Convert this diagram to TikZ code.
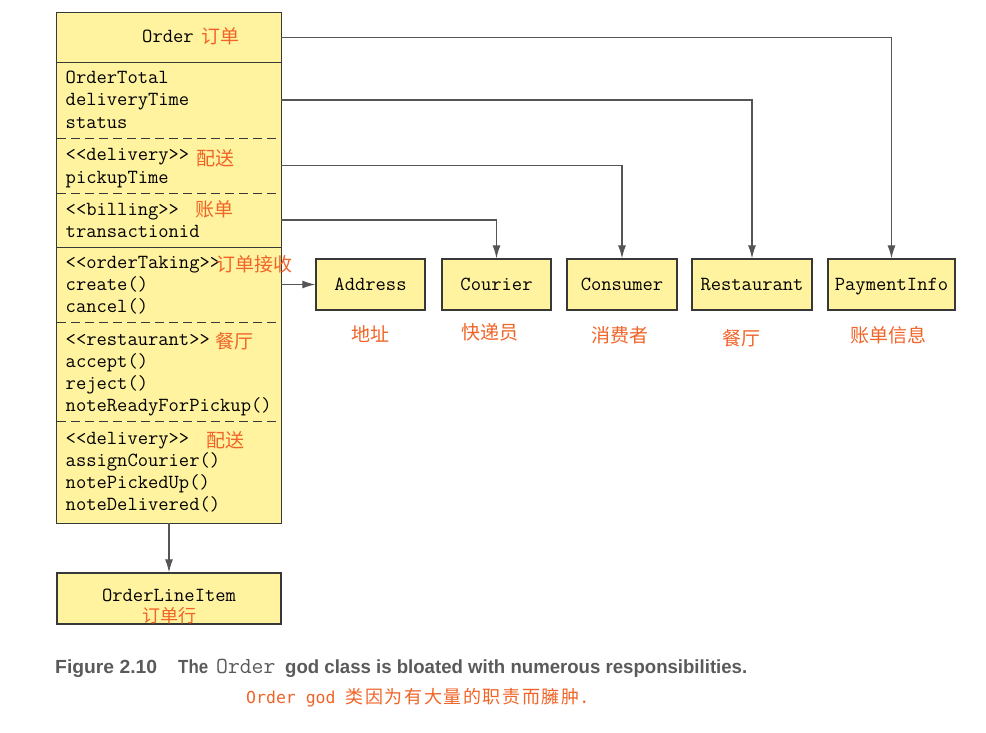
\documentclass[tikz,border=0pt]{standalone}
\usepackage{fontspec}
\usepackage{graphicx}
\setmainfont{Liberation Sans}
\newfontfamily\cjk{Noto Sans CJK SC}
\newfontfamily\cjkwide[LetterSpace=9]{Noto Sans CJK SC}
\newfontfamily\capmono{DejaVu Sans Mono}
\usetikzlibrary{arrows.meta,positioning}
\definecolor{classfill}{RGB}{255,243,160}
\definecolor{cnorange}{RGB}{240,100,40}
\definecolor{edgegray}{RGB}{85,85,85}
\definecolor{capgray}{RGB}{90,90,90}

\begin{document}
\begin{tikzpicture}[x=1pt,y=-1pt,
  part/.style={fill=classfill,inner sep=0,minimum width=224pt},
  outline/.style={draw=black!78,line width=1.3pt},
  cls/.style={outline,fill=classfill,inner sep=0,minimum height=51pt,
    text height=11pt,text depth=0pt,font=\ttfamily\fontsize{20}{22}\selectfont},
  mono/.style={inner sep=0,anchor=base west,font=\ttfamily\fontsize{20}{22}\selectfont},
  cn/.style={inner sep=0,anchor=base west,text=cnorange,font=\cjk\fontsize{19}{22}\selectfont},
  link/.style={draw=edgegray,line width=1.2pt,-{Latex[length=13pt,width=8pt]}}]
  \useasboundingbox (0,0) rectangle (986,733);
% Order class compartments
  \node[part,minimum height=49pt] (head) at (169,37.5) {};
  \node[part,minimum height=76pt] (attrs) at (169,100) {};
  \node[part,minimum height=55pt] (dlv) at (169,165.5) {};
  \node[part,minimum height=54pt] (bill) at (169,220) {};
  \node[part,minimum height=75pt] (taking) at (169,284.5) {};
  \node[part,minimum height=99pt] (rest) at (169,371.5) {};
  \node[part,minimum height=102pt] (dlvops) at (169,472) {};
  \draw[outline] (head.north west) rectangle (dlvops.south east);
  \draw[outline] (head.south west) -- (head.south east);
  \draw[outline,dash pattern=on 9pt off 5pt] (attrs.south west) -- (attrs.south east);
  \draw[outline,dash pattern=on 9pt off 5pt] (dlv.south west) -- (dlv.south east);
  \draw[outline] (bill.south west) -- (bill.south east);
  \draw[outline,dash pattern=on 9pt off 5pt] (taking.south west) -- (taking.south east);
  \draw[outline,dash pattern=on 9pt off 5pt] (rest.south west) -- (rest.south east);
% Order class texts
  \node[mono] (ordname) at (142,43) {Order};
  \node[cn] (ordcn) at (201,44) {订单};
  \node[mono] (total) at (65.5,83.5) {OrderTotal};
  \node[mono] (dtime) at (65.5,106) {deliveryTime};
  \node[mono] (status) at (65.5,128.5) {status};
  \node[mono] (dlvst) at (65.5,161) {<<delivery>>};
  \node[cn] (dlvcn) at (196,165.5) {配送};
  \node[mono] (ptime) at (65.5,183) {pickupTime};
  \node[mono] (billst) at (65.5,215) {<<billing>>};
  \node[cn] (billcn) at (195,216) {账单};
  \node[mono] (txid) at (65.5,237) {transactionid};
  \node[mono] (takest) at (65.5,268) {<<orderTaking>>};
  \node[cn] (takecn) at (216,271) {订单接收};
  \node[mono] (create) at (65.5,290) {create()};
  \node[mono] (cancel) at (65.5,312) {cancel()};
  \node[mono] (restst) at (65.5,345) {<<restaurant>>};
  \node[cn] (restcn) at (215,348) {餐厅};
  \node[mono] (accept) at (65.5,367) {accept()};
  \node[mono] (reject) at (65.5,389) {reject()};
  \node[mono] (ready) at (65.5,411) {noteReadyForPickup()};
  \node[mono] (opsst) at (65.5,444) {<<delivery>>};
  \node[cn] (opscn) at (206,447) {配送};
  \node[mono] (assign) at (65.5,466) {assignCourier()};
  \node[mono] (picked) at (65.5,488) {notePickedUp()};
  \node[mono] (dlvd) at (65.5,510.5) {noteDelivered()};
% other classes
  \node[cls,minimum width=109pt] (addr) at (370.5,284.5) {Address};
  \node[cls,minimum width=109pt] (cour) at (496.5,284.5) {Courier};
  \node[cls,minimum width=110pt] (cons) at (622,284.5) {Consumer};
  \node[cls,minimum width=120pt] (restbox) at (752,284.5) {Restaurant};
  \node[cls,minimum width=127pt] (pay) at (891.5,284.5) {PaymentInfo};
  \node[cls,minimum width=224pt] (item) at (169,598.5) {};
  \node[mono,anchor=base] (itemname) at (169,601) {OrderLineItem};
  \node[cn,anchor=base,text height=13pt,text depth=0pt,font=\cjk\fontsize{18}{20}\selectfont] (itemcn) at (169,622.5) {订单行};
  \node[cn,anchor=base] (addrcn) at (370,341) {地址};
  \node[cn,anchor=base] (courcn) at (490,339) {快递员};
  \node[cn,anchor=base] (conscn) at (620,342) {消费者};
  \node[cn,anchor=base] (restbcn) at (741,345) {餐厅};
  \node[cn,anchor=base] (paycn) at (888,342) {账单信息};
% connectors
  \draw[link] (head.east) -| (pay.north);
  \draw[link] (attrs.east) -| (restbox.north);
  \draw[link] (dlv.east) -| (cons.north);
  \draw[link] (bill.east) -| (cour.north);
  \draw[link] (taking.east) -- (addr.west);
  \draw[link] (dlvops.south) -- (item.north);
% caption
  \node[inner sep=0,anchor=base west,text=capgray,font=\bfseries\fontsize{19}{22}\selectfont]
    (fig) at (55,673) {\resizebox{102pt}{\height}{Figure 2.10}};
  \node[inner sep=0,anchor=base west,text=capgray,font=\bfseries\fontsize{19}{22}\selectfont]
    (the) at (178,673) {\resizebox{30pt}{\height}{The}};
  \node[inner sep=0,anchor=base west,text=capgray,font=\ttfamily\fontsize{23}{24}\selectfont]
    (capord) at (216,673) {Order};
  \node[inner sep=0,anchor=base west,text=capgray,font=\bfseries\fontsize{19}{22}\selectfont]
    (captxt) at (285,673) {\resizebox{462pt}{\height}{god class is bloated with numerous responsibilities.}};
  \node[inner sep=0,anchor=base west,text=cnorange]
    (capcn) at (246,703) {\capmono\fontsize{16.5}{20}\selectfont Order god \cjkwide\fontsize{18}{20}\selectfont 类因为有大量的职责而臃肿\capmono\fontsize{16.5}{20}\selectfont .};
\end{tikzpicture}
\end{document}
